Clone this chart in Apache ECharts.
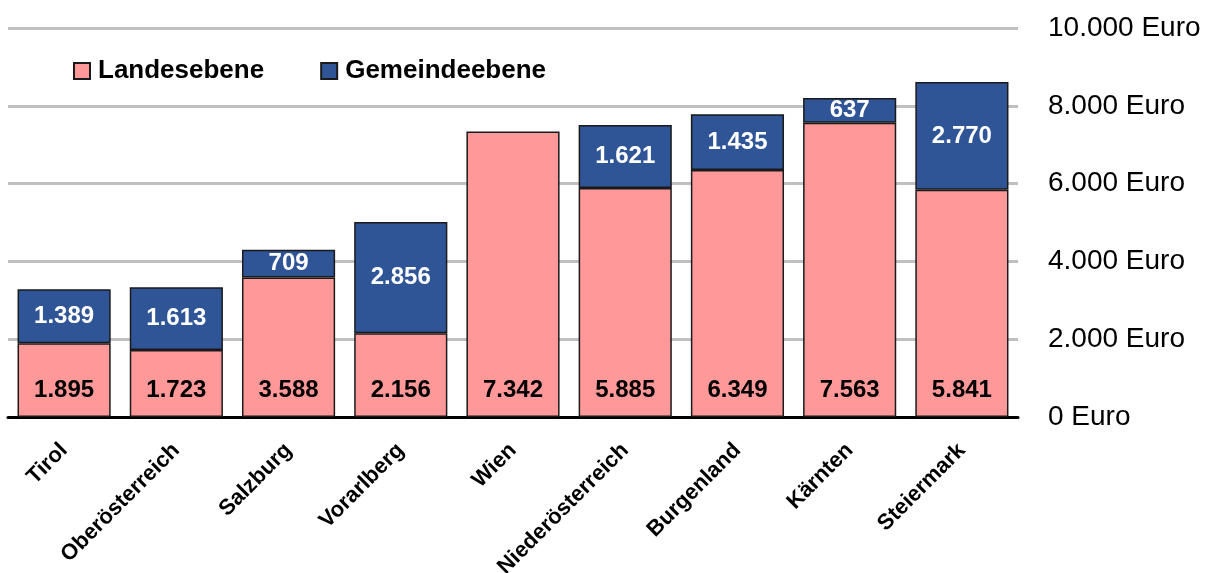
<!DOCTYPE html>
<html>
<head>
<meta charset="utf-8">
<script src="https://cdn.jsdelivr.net/npm/echarts@6/dist/echarts.min.js"></script>
<style>
  html, body { margin: 0; padding: 0; background: #fff; }
  #chart { width: 1218px; height: 573px; }
</style>
</head>
<body>
<div id="chart"></div>
<script>
var categories = ['Tirol', 'Oberösterreich', 'Salzburg', 'Vorarlberg', 'Wien', 'Niederösterreich', 'Burgenland', 'Kärnten', 'Steiermark'];
var landesebene = [1895, 1723, 3588, 2156, 7342, 5885, 6349, 7563, 5841];
var gemeindeebene = [1389, 1613, 709, 2856, null, 1621, 1435, 637, 2770];

function fmt(v) {
  return String(v).replace(/\B(?=(\d{3})+(?!\d))/g, '.');
}

var chart = echarts.init(document.getElementById('chart'));

var sans = '"Liberation Sans", Arial, sans-serif';

var option = {
  animation: false,
  legend: {
    left: 68,
    top: 53,
    itemWidth: 16,
    itemHeight: 16,
    itemGap: 56,
    icon: 'rect',
    textStyle: { fontFamily: sans, fontWeight: 'bold', fontSize: 26, color: '#000', padding: [0, 0, 0, 3] },
    data: ['Landesebene', 'Gemeindeebene']
  },
  grid: { left: 8, right: 200, top: 28, bottom: 156, containLabel: false, outerBoundsMode: 'none' },
  xAxis: {
    type: 'category',
    data: categories,
    axisLine: { lineStyle: { color: '#000', width: 3 } },
    axisTick: { show: false },
    axisLabel: {
      rotate: 45,
      interval: 0,
      margin: 30,
      fontFamily: sans,
      fontWeight: 'bold',
      fontSize: 22,
      color: '#000'
    }
  },
  yAxis: {
    type: 'value',
    position: 'right',
    min: 0,
    max: 10000,
    interval: 2000,
    axisLine: { show: false },
    axisTick: { show: false },
    splitLine: { lineStyle: { color: '#c0c0c0', width: 3 } },
    axisLabel: {
      margin: 30,
      fontFamily: sans,
      fontSize: 28,
      color: '#000',
      formatter: function (v) { return fmt(v) + ' Euro'; }
    }
  },
  series: [
    {
      name: 'Landesebene',
      type: 'bar',
      stack: 'total',
      barCategoryGap: '17%',
      data: landesebene,
      itemStyle: { color: '#ff9999', borderColor: '#1a1a1a', borderWidth: 1.5 },
      label: {
        show: true,
        position: 'insideBottom',
        distance: 15,
        fontFamily: sans,
        fontWeight: 'bold',
        fontSize: 24,
        color: '#000',
        formatter: function (p) { return fmt(p.value); }
      }
    },
    {
      name: 'Gemeindeebene',
      type: 'bar',
      stack: 'total',
      data: gemeindeebene,
      itemStyle: { color: '#2f5597', borderColor: '#1a1a1a', borderWidth: 1.5 },
      label: {
        show: true,
        position: 'inside',
        fontFamily: sans,
        fontWeight: 'bold',
        fontSize: 24,
        color: '#fff',
        formatter: function (p) { return p.value == null ? '' : fmt(p.value); }
      }
    }
  ]
};

chart.setOption(option);
</script>
</body>
</html>
